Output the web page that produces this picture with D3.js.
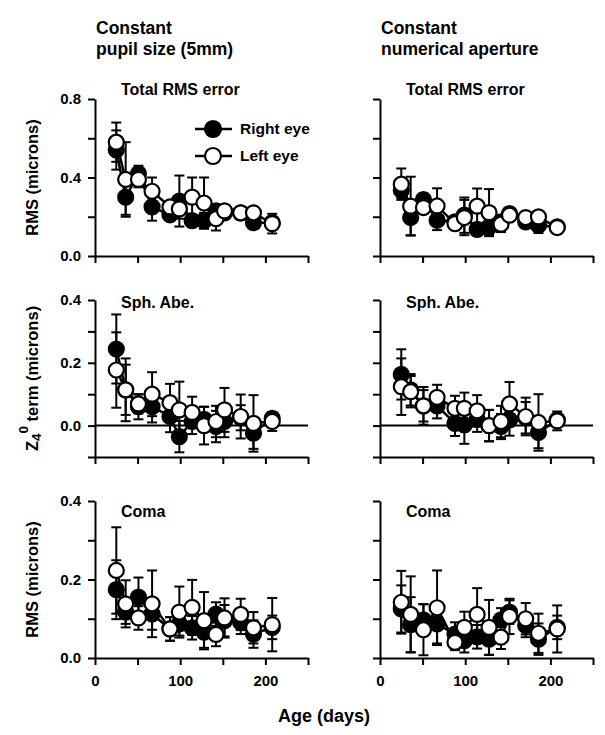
<!DOCTYPE html>
<html><head><meta charset="utf-8">
<script src="https://cdn.jsdelivr.net/npm/d3@7"></script>
<style>
body{margin:0;background:#fff}
text{font-family:"Liberation Sans",Arial,Helvetica,sans-serif;font-weight:bold;fill:#000}
</style>
</head><body>
<svg id="chart" width="605" height="735"></svg>
<script>
// ---- data ----
const ages = [25, 36, 51, 67, 88, 99, 114, 128, 142, 152, 171, 186, 208];

// Total RMS error, constant pupil size
const totalPupilRight    = [0.54, 0.30, 0.42, 0.25, 0.21, 0.28, 0.18, 0.18, 0.23, 0.22, 0.22, 0.17, 0.17];
const totalPupilRightErr = [0.10, 0.09, 0.04, 0.07, 0.03, 0.13, 0.03, 0.04, 0.03, 0.03, 0.02, 0.03, 0.03];
const totalPupilLeft     = [0.58, 0.39, 0.39, 0.33, 0.25, 0.24, 0.30, 0.27, 0.19, 0.23, 0.22, 0.22, 0.165];
const totalPupilLeftErr  = [0.10, 0.19, 0.04, 0.07, 0.03, 0.05, 0.10, 0.13, 0.06, 0.03, 0.03, 0.03, 0.05];
// Total RMS error, constant numerical aperture
const totalNARight    = [0.335, 0.196, 0.288, 0.182, 0.174, 0.208, 0.136, 0.148, 0.174, 0.216, 0.174, 0.157, 0.148];
const totalNARightErr = [0.04, 0.09, 0.03, 0.05, 0.03, 0.09, 0.03, 0.04, 0.03, 0.03, 0.02, 0.04, 0.03];
const totalNALeft     = [0.366, 0.254, 0.247, 0.255, 0.165, 0.196, 0.254, 0.221, 0.162, 0.208, 0.196, 0.199, 0.145];
const totalNALeftErr  = [0.08, 0.15, 0.03, 0.09, 0.03, 0.09, 0.09, 0.12, 0.04, 0.03, 0.02, 0.03, 0.03];
// Spherical aberration, constant pupil size
const sphPupilRight    = [0.244, 0.114, 0.06, 0.06, 0.029, -0.035, 0.013, 0.02, -0.003, 0.013, 0.025, -0.024, 0.023];
const sphPupilRightErr = [0.11, 0.08, 0.04, 0.05, 0.05, 0.05, 0.04, 0.04, 0.05, 0.05, 0.04, 0.05, 0.02];
const sphPupilLeft     = [0.177, 0.114, 0.069, 0.10, 0.073, 0.05, 0.042, 0.0, 0.013, 0.05, 0.029, 0.007, 0.013];
const sphPupilLeftErr  = [0.12, 0.10, 0.03, 0.07, 0.06, 0.09, 0.05, 0.06, 0.05, 0.07, 0.07, 0.09, 0.03];
// Spherical aberration, constant numerical aperture
const sphNARight    = [0.163, 0.114, 0.063, 0.063, 0.007, 0.002, 0.02, 0.0, -0.003, 0.018, 0.025, -0.022, 0.018];
const sphNARightErr = [0.08, 0.05, 0.05, 0.04, 0.04, 0.06, 0.04, 0.05, 0.04, 0.05, 0.05, 0.05, 0.02];
const sphNALeft     = [0.124, 0.108, 0.063, 0.09, 0.055, 0.055, 0.047, 0.0, 0.013, 0.069, 0.029, 0.01, 0.015];
const sphNALeftErr  = [0.09, 0.05, 0.06, 0.04, 0.04, 0.05, 0.05, 0.05, 0.05, 0.07, 0.06, 0.09, 0.03];
// Coma, constant pupil size
const comaPupilRight    = [0.174, 0.117, 0.155, 0.112, 0.074, 0.087, 0.077, 0.066, 0.112, 0.095, 0.091, 0.061, 0.078];
const comaPupilRightErr = [0.075, 0.03, 0.05, 0.04, 0.03, 0.03, 0.03, 0.04, 0.03, 0.04, 0.03, 0.035, 0.03];
const comaPupilLeft     = [0.223, 0.138, 0.102, 0.138, 0.074, 0.117, 0.129, 0.095, 0.06, 0.102, 0.111, 0.077, 0.085];
const comaPupilLeftErr  = [0.11, 0.06, 0.03, 0.085, 0.03, 0.065, 0.07, 0.073, 0.03, 0.05, 0.04, 0.04, 0.068];
// Coma, constant numerical aperture
const comaNARight    = [0.125, 0.085, 0.097, 0.087, 0.061, 0.044, 0.054, 0.048, 0.097, 0.117, 0.083, 0.048, 0.078];
const comaNARightErr = [0.06, 0.07, 0.04, 0.05, 0.03, 0.03, 0.03, 0.04, 0.03, 0.03, 0.03, 0.04, 0.03];
const comaNALeft     = [0.142, 0.111, 0.072, 0.128, 0.04, 0.078, 0.111, 0.078, 0.053, 0.106, 0.10, 0.063, 0.074];
const comaNALeftErr  = [0.08, 0.097, 0.065, 0.095, 0.02, 0.04, 0.067, 0.07, 0.03, 0.045, 0.04, 0.05, 0.06];

const columnTitles = [["Constant", "pupil size (5mm)"], ["Constant", "numerical aperture"]];
const panelTitles = ["Total RMS error", "Sph. Abe.", "Coma"];
const legendLabels = ["Right eye", "Left eye"];
const yDomains = [[0, 0.8], [-0.1, 0.4], [0, 0.4]];
const yTickValues = [[0, 0.2, 0.4, 0.6, 0.8], [-0.1, 0, 0.1, 0.2, 0.3, 0.4], [0, 0.1, 0.2, 0.3, 0.4]];
const yTickLabels = [[0, 0.4, 0.8], [0, 0.2, 0.4], [0, 0.2, 0.4]];
const xDomain = [0, 250];
const xTickValues = [0, 50, 100, 150, 200, 250];
const xTickLabels = [0, 100, 200];
const xTitle = "Age (days)";

const series = [
  [[totalPupilRight, totalPupilRightErr, totalPupilLeft, totalPupilLeftErr],
   [totalNARight, totalNARightErr, totalNALeft, totalNALeftErr]],
  [[sphPupilRight, sphPupilRightErr, sphPupilLeft, sphPupilLeftErr],
   [sphNARight, sphNARightErr, sphNALeft, sphNALeftErr]],
  [[comaPupilRight, comaPupilRightErr, comaPupilLeft, comaPupilLeftErr],
   [comaNARight, comaNARightErr, comaNALeft, comaNALeftErr]]
];

// ---- layout ----
const colX = [95, 380], plotW = 213;
const rowTop = [99, 300, 501], plotH = 157;
const titleY = [95, 308, 517];
const R = 7.5;

const svg = d3.select("#chart");
const has = (arr, v) => arr.some(a => Math.abs(a - v) < 1e-9);

// column titles
columnTitles.forEach((lines, c) => {
  const t = svg.append("text").attr("x", colX[c] + 1).attr("y", 34).style("font-size", "17.5px");
  lines.forEach((l, i) => t.append("tspan").attr("x", colX[c] + 1).attr("dy", i ? 21 : 0).text(l));
});

for (let r = 0; r < 3; r++) {
  for (let c = 0; c < 2; c++) {
    const x = d3.scaleLinear().domain(xDomain).range([colX[c], colX[c] + plotW]);
    const y = d3.scaleLinear().domain(yDomains[r]).range([rowTop[r] + plotH, rowTop[r]]);
    const g = svg.append("g");

    // zero line for sph abe
    if (yDomains[r][0] < 0) {
      g.append("line").attr("x1", x(0)).attr("x2", x(250)).attr("y1", y(0)).attr("y2", y(0))
        .attr("stroke", "#000").attr("stroke-width", 2);
    }

    const yAxis = d3.axisLeft(y).tickValues(yTickValues[r]).tickSize(7).tickSizeOuter(0).tickPadding(7)
      .tickFormat(d => c === 0 && has(yTickLabels[r], d) ? d3.format(".1f")(d) : "");
    const ya = g.append("g").attr("transform", `translate(${x(0)},0)`).call(yAxis);
    const xAxis = d3.axisBottom(x).tickValues(xTickValues).tickSize(7).tickSizeOuter(0).tickPadding(10)
      .tickFormat(d => r === 2 && has(xTickLabels, d) ? d : "");
    const xa = g.append("g").attr("transform", `translate(0,${y(yDomains[r][0])})`).call(xAxis);
    [ya, xa].forEach(a => {
      a.selectAll("path,line").attr("stroke", "#000").attr("stroke-width", 2);
      a.selectAll("text").style("font-size", "15px").style("font-family", '"Liberation Sans",Arial,sans-serif').style("font-weight", "bold").attr("fill", "#000");
    });

    // panel title
    g.append("text").attr("x", colX[c] + 26).attr("y", titleY[r]).style("font-size", "16px").text(panelTitles[r]);

    const [rv, re, lv, le] = series[r][c];
    [[rv, re, "#000"], [lv, le, "#fff"]].forEach(([vals, errs, fill]) => {
      const pts = ages.map((a, i) => ({a, v: vals[i], e: errs[i]}));
      // error bars
      const eb = g.append("g").attr("stroke", "#000").attr("stroke-width", 2);
      pts.forEach(p => {
        eb.append("line").attr("x1", x(p.a)).attr("x2", x(p.a)).attr("y1", y(p.v - p.e)).attr("y2", y(p.v + p.e));
        [p.v - p.e, p.v + p.e].forEach(v => eb.append("line")
          .attr("x1", x(p.a) - 5).attr("x2", x(p.a) + 5).attr("y1", y(v)).attr("y2", y(v)));
      });
      // connecting line
      g.append("path").datum(pts).attr("fill", "none").attr("stroke", "#000").attr("stroke-width", 2.5)
        .attr("d", d3.line().x(p => x(p.a)).y(p => y(p.v)));
      // markers
      g.selectAll(null).data(pts).enter().append("circle")
        .attr("cx", p => x(p.a)).attr("cy", p => y(p.v)).attr("r", R)
        .attr("fill", fill).attr("stroke", "#000").attr("stroke-width", 2.2);
    });

    // legend in first panel
    if (r === 0 && c === 0) {
      const ly = [129, 156];
      ["#000", "#fff"].forEach((fill, i) => {
        g.append("line").attr("x1", 195).attr("x2", 232).attr("y1", ly[i]).attr("y2", ly[i])
          .attr("stroke", "#000").attr("stroke-width", 2.5);
        g.append("circle").attr("cx", 213).attr("cy", ly[i]).attr("r", 8)
          .attr("fill", fill).attr("stroke", "#000").attr("stroke-width", 2.2);
        g.append("text").attr("x", 240).attr("y", ly[i] + 5).style("font-size", "15.5px").text(legendLabels[i]);
      });
    }
  }
}

// y axis titles
const yMid = r => rowTop[r] + plotH / 2;
[0, 2].forEach(r => {
  svg.append("text").attr("transform", `translate(38,${yMid(r)}) rotate(-90)`)
    .attr("text-anchor", "middle").style("font-size", "16.5px").text("RMS (microns)");
});
{
  const t = svg.append("text").attr("transform", `translate(38,${yMid(1)}) rotate(-90)`)
    .attr("text-anchor", "middle").style("font-size", "16.5px");
  t.append("tspan").text("Z");
  t.append("tspan").attr("dy", 3).style("font-size", "13.5px").text("4");
  t.append("tspan").attr("dy", -13).style("font-size", "13.5px").text("0");
  t.append("tspan").attr("dy", 10).text(" term (microns)");
}
// x axis title
svg.append("text").attr("x", 324).attr("y", 722).attr("text-anchor", "middle").style("font-size", "18px").text(xTitle);
</script>
</body></html>
